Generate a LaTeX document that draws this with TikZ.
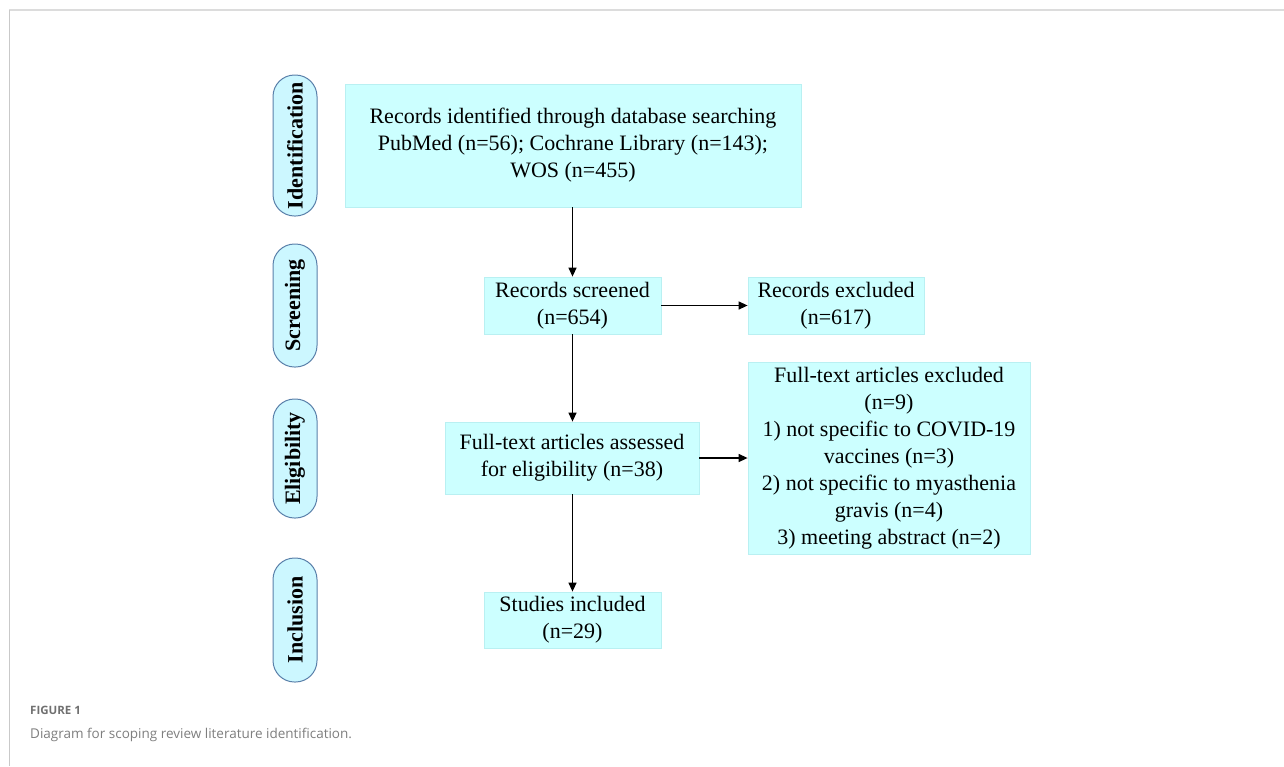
\documentclass[tikz,border=0pt]{standalone}
\usepackage{fontspec}
\setmainfont{Liberation Serif}
\newfontfamily\capfont{Open Sans}
\usetikzlibrary{arrows.meta}
\definecolor{boxcyan}{HTML}{CCFFFF}
\definecolor{boxedge}{HTML}{B9F0F2}
\definecolor{pillfill}{HTML}{CCF7FF}
\definecolor{pilledge}{HTML}{5A80AA}
\definecolor{framegray}{HTML}{DCDCDC}
\definecolor{capgray}{HTML}{707070}
\tikzset{
  flowbox/.style={fill=boxcyan, draw=boxedge, line width=0.8pt, inner sep=0pt, align=center,
    font=\fontsize{22}{27}\selectfont},
  pill/.style={fill=pillfill, draw=pilledge, line width=1pt, rounded corners=21.5pt,
    minimum height=44pt, inner sep=0pt, rotate=90,
    font=\bfseries\fontsize{22}{26}\selectfont},
  flowarrow/.style={line width=1.3pt, -{Triangle[length=9pt,width=8pt]}},
}
\begin{document}
\begin{tikzpicture}[x=1pt,y=-1pt]
\useasboundingbox (0,0) rectangle (1284,766);
% frame
\draw[framegray, line width=2.5pt] (9,10) -- (1284,10);
\draw[framegray!80!gray, line width=1pt] (9,10) -- (9,766);
% pills
\node[pill, minimum width=141pt] (pid) at (295,145.5) {Identification};
\node[pill, minimum width=123pt] (pscr) at (295,305.5) {Screening};
\node[pill, minimum width=119pt] (pel) at (295,458.5) {Eligibility};
\node[pill, minimum width=124pt] (pinc) at (295,620) {Inclusion};
% boxes
\node[flowbox, minimum width=456pt, minimum height=123pt] (b1) at (573,145.5)
  {Records identified through database searching\\PubMed (n=56); Cochrane Library (n=143);\\WOS (n=455)};
\node[flowbox, minimum width=177pt, minimum height=57pt] (b2) at (572.5,305.5)
  {Records screened\\(n=654)};
\node[flowbox, minimum width=176pt, minimum height=57pt] (b3) at (836,305.5)
  {Records excluded\\(n=617)};
\node[flowbox, minimum width=254pt, minimum height=72pt] (b4) at (572,458)
  {Full-text articles assessed\\for eligibility (n=38)};
\node[flowbox, minimum width=282pt, minimum height=192pt] (b5) at (889,458)
  {Full-text articles excluded\\(n=9)\\1) not specific to COVID-19\\vaccines (n=3)\\2) not specific to myasthenia\\gravis (n=4)\\3) meeting abstract (n=2)};
\node[flowbox, minimum width=177pt, minimum height=56pt] (b6) at (572.5,620)
  {Studies included\\(n=29)};
% arrows
\draw[flowarrow] (b1.south -| b2.north) -- (b2.north);
\draw[flowarrow] (b2.east) -- (b3.west);
\draw[flowarrow] (b2.south) -- (b2.south |- b4.north);
\draw[flowarrow] (b4.east) -- (b4.east -| b5.west);
\draw[flowarrow] (b4.south -| b6.north) -- (b6.north);
% caption
\node[anchor=west, inner sep=0pt, text=capgray, font=\capfont\bfseries\fontsize{11.5}{13}\selectfont] (cap1) at (30,710) {FIGURE 1};
\node[anchor=west, inner sep=0pt, text=capgray!90!white, font=\capfont\fontsize{13.5}{16}\selectfont] (cap2) at (30,735) {Diagram for scoping review literature identification.};
\end{tikzpicture}
\end{document}
